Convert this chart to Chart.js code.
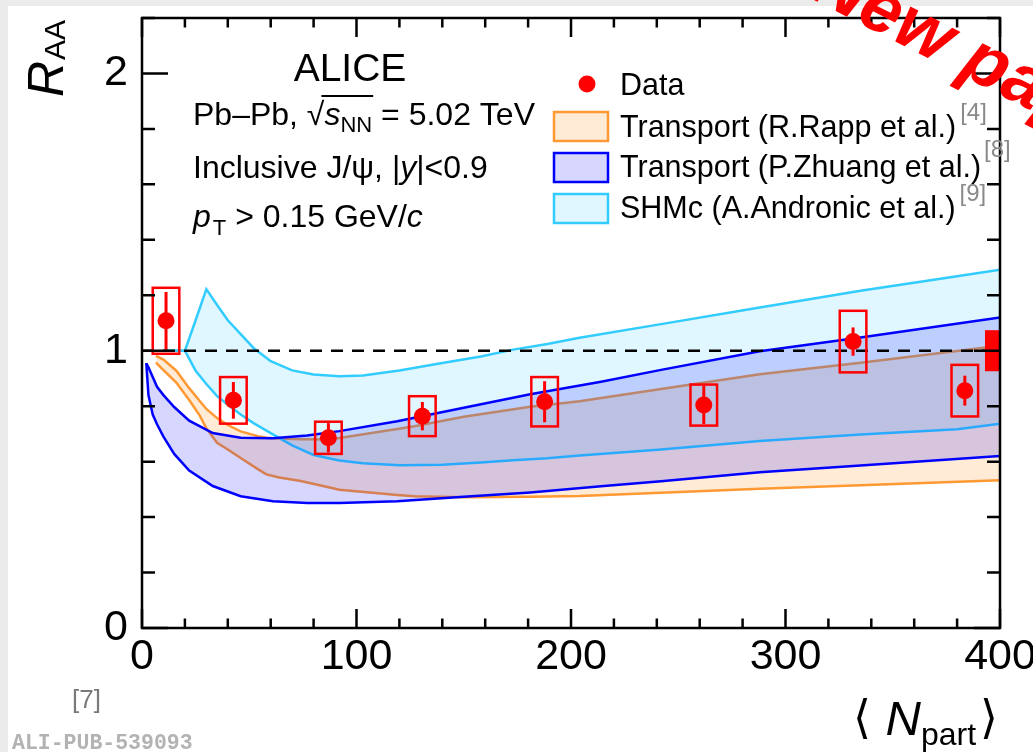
<!DOCTYPE html>
<html>
<head>
<meta charset="utf-8">
<title>Inclusive J/psi R_AA vs Npart</title>
<script src="https://cdn.jsdelivr.net/npm/chart.js@4.4.1/dist/chart.umd.min.js"></script>
<style>
  html, body { margin: 0; padding: 0; background: #fff; }
  #wrap { width: 1033px; height: 752px; position: relative; }
</style>
</head>
<body>
<div id="wrap"><canvas id="raaChart" width="1033" height="752"></canvas></div>
<script>
// ALICE inclusive J/psi R_AA vs <Npart>, Pb-Pb 5.02 TeV, |y|<0.9

// measured points
const npart = [11.2, 42.6, 86.9, 130.7, 187.7, 261.9, 331.5, 383.6];
const raa = [1.108, 0.821, 0.686, 0.764, 0.816, 0.804, 1.033, 0.856];
const statErr = [0.104, 0.066, 0.053, 0.051, 0.074, 0.069, 0.051, 0.054];
const systErr = [0.119, 0.084, 0.058, 0.072, 0.089, 0.074, 0.111, 0.093];
const globalSyst = 0.074;

// Transport (R.Rapp et al.)
const rappN = [6.5, 10, 16, 22, 27, 30, 35, 40, 46, 54, 58, 64, 74, 88, 92, 119, 127, 150, 181, 204, 242, 288, 335, 400];
const rappHigh = [0.981, 0.968, 0.928, 0.865, 0.818, 0.79, 0.757, 0.732, 0.709, 0.692, 0.686, 0.683, 0.681, 0.68, 0.685, 0.718, 0.728, 0.762, 0.798, 0.818, 0.862, 0.915, 0.957, 1.018];
const rappLow = [0.957, 0.93, 0.885, 0.822, 0.765, 0.72, 0.668, 0.644, 0.613, 0.573, 0.554, 0.543, 0.53, 0.506, 0.499, 0.48, 0.475, 0.472, 0.473, 0.476, 0.488, 0.502, 0.515, 0.533];

// Transport (P.Zhuang et al.)
const zhuangN = [2, 3, 5, 7, 10, 15, 22, 33, 46, 61, 77, 92, 119, 150, 181, 214, 242, 288, 335, 400];
const zhuangHigh = [0.955, 0.94, 0.905, 0.87, 0.84, 0.797, 0.748, 0.703, 0.686, 0.684, 0.694, 0.71, 0.746, 0.794, 0.843, 0.888, 0.931, 0.998, 1.048, 1.12];
const zhuangLow = [0.955, 0.84, 0.77, 0.735, 0.69, 0.628, 0.568, 0.512, 0.475, 0.457, 0.451, 0.451, 0.457, 0.473, 0.489, 0.511, 0.529, 0.562, 0.586, 0.62];

// SHMc (A.Andronic et al.)
const shmN = [12, 20, 25, 30, 35, 40, 46, 52, 60, 70, 80, 92, 103, 120, 140, 158, 173, 189, 204, 242, 288, 335, 380, 400];
const shmHigh = [1.0, 1.0, 1.11, 1.222, 1.165, 1.11, 1.06, 1.01, 0.962, 0.929, 0.914, 0.908, 0.911, 0.929, 0.956, 0.979, 1.004, 1.024, 1.047, 1.096, 1.156, 1.216, 1.269, 1.292];
const shmLow = [1.0, 1.0, 0.928, 0.88, 0.836, 0.805, 0.77, 0.739, 0.703, 0.659, 0.624, 0.604, 0.594, 0.587, 0.589, 0.597, 0.605, 0.612, 0.622, 0.644, 0.674, 0.698, 0.717, 0.737];

const xTickLabels = [0, 100, 200, 300, 400];
const yTickLabels = [0, 1, 2];

const RED = '#ff0000';
const ORANGE = '#ff9933', ORANGE_FILL = 'rgba(255,153,51,0.2)';
const BLUE = '#0000ff', BLUE_FILL = 'rgba(0,0,255,0.16)';
const CYAN = '#33ccff', CYAN_FILL = 'rgba(51,204,255,0.15)';
const SANS = '"Liberation Sans", Arial, Helvetica, sans-serif';

const pts = (xs, ys) => xs.map((x, i) => ({ x: x, y: ys[i] }));

function bandEdge(label, xs, ys, color, fill, fillColor, order) {
    return {
        type: 'line',
        label: label,
        data: pts(xs, ys),
        borderColor: color,
        borderWidth: 2.5,
        backgroundColor: fillColor,
        fill: fill,
        pointRadius: 0,
        tension: 0,
        order: order,
    };
}

// draws a row of text pieces (font / vertical shift per piece), returns end x
function drawRuns(ctx, x, y, runs) {
    let cx = x;
    runs.forEach((r) => {
        ctx.font = r.font;
        ctx.fillStyle = r.color || '#000';
        ctx.fillText(r.text, cx, y + (r.dy || 0));
        cx += ctx.measureText(r.text).width + (r.gap || 0);
    });
    return cx;
}

const hepPlugin = {
    id: 'hepDecor',
    beforeDraw(chart) {
        const ctx = chart.ctx;
        ctx.save();
        ctx.fillStyle = '#ffffff';
        ctx.fillRect(0, 0, chart.width, chart.height);
        ctx.fillStyle = '#ebebeb';
        ctx.fillRect(0, 0, chart.width, 6);
        ctx.fillRect(0, 0, 8, chart.height);
        ctx.restore();
    },
    afterDatasetsDraw(chart) {
        const ctx = chart.ctx;
        const xs = chart.scales.x, ys = chart.scales.y;
        const a = chart.chartArea;
        ctx.save();

        // syst boxes + stat bars
        ctx.strokeStyle = RED;
        npart.forEach((n, i) => {
            const xl = xs.getPixelForValue(n - 6.2), xr = xs.getPixelForValue(n + 6.2);
            const yt = ys.getPixelForValue(raa[i] + systErr[i]), yb = ys.getPixelForValue(raa[i] - systErr[i]);
            ctx.lineWidth = 2.5;
            ctx.strokeRect(xl, yt, xr - xl, yb - yt);
            ctx.lineWidth = 3;
            ctx.beginPath();
            ctx.moveTo(xs.getPixelForValue(n), ys.getPixelForValue(raa[i] + statErr[i]));
            ctx.lineTo(xs.getPixelForValue(n), ys.getPixelForValue(raa[i] - statErr[i]));
            ctx.stroke();
        });

        // global normalisation uncertainty at unity
        ctx.fillStyle = RED;
        const gx = xs.getPixelForValue(393);
        const gt = ys.getPixelForValue(1 + globalSyst), gb = ys.getPixelForValue(1 - globalSyst);
        ctx.fillRect(gx, gt, a.right - gx, gb - gt);

        // frame
        ctx.strokeStyle = '#000';
        ctx.lineWidth = 2.5;
        ctx.strokeRect(a.left, a.top, a.right - a.left, a.bottom - a.top);

        // inward ticks on all four sides
        ctx.lineWidth = 2.5;
        ctx.beginPath();
        xs.ticks.forEach((t) => {
            const p = xs.getPixelForValue(t.value);
            const len = xTickLabels.includes(t.value) ? 19 : 9.5;
            ctx.moveTo(p, a.bottom); ctx.lineTo(p, a.bottom - len);
            ctx.moveTo(p, a.top); ctx.lineTo(p, a.top + len);
        });
        ys.ticks.forEach((t) => {
            const p = ys.getPixelForValue(t.value);
            const len = yTickLabels.includes(t.value) ? 26 : 13;
            ctx.moveTo(a.left, p); ctx.lineTo(a.left + len, p);
            ctx.moveTo(a.right, p); ctx.lineTo(a.right - len, p);
        });
        ctx.stroke();
        ctx.restore();
    },
    afterDraw(chart) {
        const ctx = chart.ctx;
        ctx.save();
        ctx.textBaseline = 'alphabetic';

        // axis titles
        ctx.save();
        ctx.translate(63, 97);
        ctx.rotate(-Math.PI / 2);
        drawRuns(ctx, 0, 0, [
            { text: 'R', font: 'italic 50px ' + SANS, gap: 1 },
            { text: 'AA', font: '30px ' + SANS, dy: 2 },
        ]);
        ctx.restore();

        const xTitle = [
            { text: '\u27E8 ', font: '46px "DejaVu Sans", ' + SANS, dy: -2 },
            { text: 'N', font: 'italic 49px ' + SANS },
            { text: 'part', font: '32px ' + SANS, dy: 10, gap: 4 },
            { text: '\u27E9', font: '46px "DejaVu Sans", ' + SANS, dy: -2 },
        ];
        let w = 0;
        xTitle.forEach((r) => { ctx.font = r.font; w += ctx.measureText(r.text).width + (r.gap || 0); });
        drawRuns(ctx, 998 - w, 735, xTitle);

        // header
        ctx.font = '39px ' + SANS;
        ctx.fillStyle = '#000';
        ctx.textAlign = 'center';
        ctx.fillText('ALICE', 350, 81);
        ctx.textAlign = 'left';

        const F = '32px ' + SANS, FI = 'italic 32px ' + SANS, FS = '22px ' + SANS;
        let cx = drawRuns(ctx, 193, 125, [{ text: 'Pb\u2013Pb, ', font: F }, { text: '\u221A', font: F }]);
        const rootStart = cx - 3;
        cx = drawRuns(ctx, cx, 125, [{ text: 's', font: FI }, { text: 'NN', font: FS, dy: 7 }]);
        ctx.lineWidth = 1.8;
        ctx.strokeStyle = '#000';
        ctx.beginPath();
        ctx.moveTo(rootStart, 96);
        ctx.lineTo(cx + 1, 96);
        ctx.stroke();
        drawRuns(ctx, cx, 125, [{ text: ' = 5.02 TeV', font: F }]);

        drawRuns(ctx, 193, 178, [
            { text: 'Inclusive J/\u03C8, |', font: F },
            { text: 'y', font: FI },
            { text: '|<0.9', font: F },
        ]);
        drawRuns(ctx, 193, 227, [
            { text: 'p', font: FI, gap: 2 },
            { text: 'T', font: FS, dy: 8 },
            { text: ' > 0.15 GeV/', font: F },
            { text: 'c', font: FI },
        ]);

        // legend
        ctx.fillStyle = RED;
        ctx.beginPath();
        ctx.arc(587, 84, 8.5, 0, Math.PI * 2);
        ctx.fill();
        const boxes = [
            { y: 112, fill: ORANGE_FILL, line: ORANGE },
            { y: 153, fill: BLUE_FILL, line: BLUE },
            { y: 194, fill: CYAN_FILL, line: CYAN },
        ];
        boxes.forEach((b) => {
            ctx.fillStyle = b.fill;
            ctx.fillRect(554, b.y, 54, 29);
            ctx.strokeStyle = b.line;
            ctx.lineWidth = 2.5;
            ctx.strokeRect(554, b.y, 54, 29);
        });
        const LF = '30.5px ' + SANS;
        const REF = '24px ' + SANS;
        drawRuns(ctx, 620, 95, [{ text: 'Data', font: LF }]);
        drawRuns(ctx, 620, 137, [{ text: 'Transport (R.Rapp et al.)', font: LF, gap: 4 }, { text: '[4]', font: REF, dy: -17, color: '#8a8a8a' }]);
        drawRuns(ctx, 620, 177, [{ text: 'Transport (P.Zhuang et al.)', font: LF, gap: 3 }, { text: '[8]', font: REF, dy: -20, color: '#8a8a8a' }]);
        drawRuns(ctx, 620, 218, [{ text: 'SHMc (A.Andronic et al.)', font: LF, gap: 4 }, { text: '[9]', font: REF, dy: -17, color: '#8a8a8a' }]);

        drawRuns(ctx, 72, 708, [{ text: '[7]', font: '26px ' + SANS, color: '#7a7a7a' }]);
        drawRuns(ctx, 12, 749, [{ text: 'ALI-PUB-539093', font: 'bold 21.5px "Liberation Mono", "Courier New", monospace', color: '#b3b3b3' }]);

        // stamp
        ctx.save();
        ctx.translate(808, -3);
        ctx.rotate(27 * Math.PI / 180);
        ctx.font = 'italic bold 72px ' + SANS;
        ctx.fillStyle = RED;
        ctx.fillText('New paper', 0, 0);
        ctx.restore();

        ctx.restore();
    },
};

const ctx = document.getElementById('raaChart').getContext('2d');
const raaChart = new Chart(ctx, {
    type: 'line',
    data: {
        datasets: [
            {
                type: 'line',
                label: 'Data',
                data: pts(npart, raa),
                showLine: false,
                pointRadius: 8.5,
                pointHoverRadius: 8.5,
                pointBackgroundColor: RED,
                pointBorderWidth: 0,
                order: 0,
            },
            {
                type: 'line',
                label: 'unity',
                data: [{ x: 0, y: 1 }, { x: 400, y: 1 }],
                borderColor: '#000',
                borderWidth: 2.5,
                borderDash: [12, 9],
                pointRadius: 0,
                fill: false,
                order: 1,
            },
            bandEdge('Transport (P.Zhuang et al.)', zhuangN, zhuangHigh, BLUE, '+1', BLUE_FILL, 2),
            bandEdge('Zhuang low', zhuangN, zhuangLow, BLUE, false, BLUE_FILL, 2),
            bandEdge('SHMc (A.Andronic et al.)', shmN, shmHigh, CYAN, '+1', CYAN_FILL, 3),
            bandEdge('SHMc low', shmN, shmLow, CYAN, false, CYAN_FILL, 3),
            bandEdge('Transport (R.Rapp et al.)', rappN, rappHigh, ORANGE, '+1', ORANGE_FILL, 4),
            bandEdge('Rapp low', rappN, rappLow, ORANGE, false, ORANGE_FILL, 4),
        ],
    },
    options: {
        responsive: false,
        animation: false,
        layout: { padding: { top: 18, right: 33, left: 0, bottom: 0 } },
        plugins: {
            legend: { display: false },
            tooltip: { enabled: false },
        },
        scales: {
            x: {
                type: 'linear',
                min: 0,
                max: 400,
                grid: { display: false, drawTicks: false },
                border: { display: false },
                ticks: {
                    stepSize: 20,
                    autoSkip: false,
                    maxRotation: 0,
                    padding: 3,
                    color: '#000',
                    font: { family: SANS, size: 43 },
                    callback: (v) => (xTickLabels.includes(v) ? String(v) : ''),
                },
                afterFit: (s) => {
                    s.height = 124;
                    s.paddingLeft = 0;
                    s.paddingRight = 0;
                },
            },
            y: {
                type: 'linear',
                min: 0,
                max: 2.2,
                grid: { display: false, drawTicks: false },
                border: { display: false },
                ticks: {
                    stepSize: 0.2,
                    autoSkip: false,
                    padding: 14,
                    color: '#000',
                    font: { family: SANS, size: 43 },
                    callback: (v) => (yTickLabels.includes(v) ? String(v) : ''),
                },
                afterFit: (s) => {
                    s.width = 142;
                    s.paddingTop = 0;
                    s.paddingBottom = 0;
                },
            },
        },
    },
    plugins: [hepPlugin],
});
</script>
</body>
</html>
